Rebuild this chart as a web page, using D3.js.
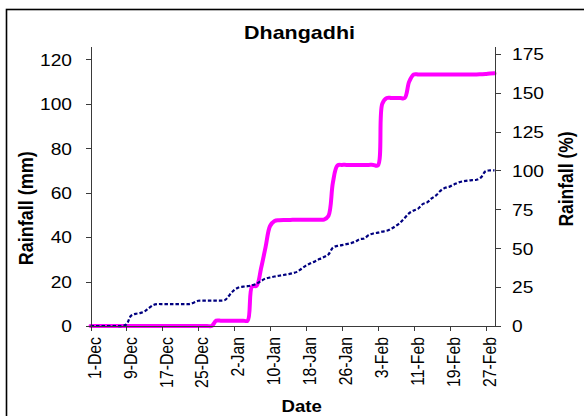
<!DOCTYPE html>
<html>
<head>
<meta charset="utf-8">
<script src="https://cdn.jsdelivr.net/npm/d3@7"></script>
<style>
    body { margin: 0; background: #fff; }
    svg { display: block; font-family: "Liberation Sans", Arial, sans-serif; }
    .axis path,
    .axis line {
        fill: none;
        stroke: #3a3a3a;
        shape-rendering: crispEdges;
    }
    .axis text { fill: #000; }
</style>
</head>
<body>
<script>

// titles
var chartTitle = "Dhangadhi";
var leftTitle = "Rainfall (mm)";
var rightTitle = "Rainfall (%)";
var xTitle = "Date";

// daily series runs from 1-Dec to 29-Feb
var firstDay = "2011-12-01";
var lastDay = "2012-02-29";

// tick labels
var xTickLabels = ["1-Dec", "9-Dec", "17-Dec", "25-Dec", "2-Jan", "10-Jan",
    "18-Jan", "26-Jan", "3-Feb", "11-Feb", "19-Feb", "27-Feb"];
var leftTicks = [0, 20, 40, 60, 80, 100, 120];
var rightTicks = [0, 25, 50, 75, 100, 125, 150, 175];

// cumulative rainfall (mm) - left axis, one value per day
var rainMM = [
    0, 0, 0, 0, 0, 0, 0, 0, 0, 0,
    0, 0, 0, 0, 0, 0, 0, 0, 0, 0,
    0, 0, 0, 0, 0, 0, 0, 0, 2.4, 2.4,
    2.4, 2.4, 2.4, 2.4, 2.4, 2.4, 17.8, 18.1, 26, 35.5,
    45, 47.3, 47.6, 47.7, 47.7, 47.8, 47.8, 47.8, 47.8, 47.8,
    47.8, 47.8, 47.9, 49.5, 64.5, 72.2, 72.5, 72.5, 72.5, 72.5,
    72.5, 72.5, 72.5, 72.5, 72.2, 100, 102.6, 102.6, 102.6, 102.6,
    102.6, 110, 113.2, 113.2, 113.2, 113.2, 113.2, 113.2, 113.2, 113.2,
    113.2, 113.2, 113.2, 113.2, 113.2, 113.2, 113.2, 113.3, 113.4, 113.6,
    113.7
];

// cumulative rainfall (%) - right axis, one value per day
var rainPct = [
    0, 0, 0, 0, 0, 0, 0, 0, 1, 6.5,
    7.8, 8.3, 9.3, 11.5, 13.5, 14.1, 14.1, 14.1, 14.1, 14.1,
    14.1, 14.1, 14.1, 15, 16.2, 16.3, 16.3, 16.3, 16.3, 16.3,
    16.8, 20, 23, 24.8, 25.3, 25.6, 26.2, 27.2, 29, 30.5,
    31.2, 31.8, 32.3, 32.8, 33.3, 33.9, 34.8, 36.8, 38.8, 40.3,
    41.5, 43, 44.3, 46, 50.4, 51.5, 52, 52.6, 53.3, 54.2,
    55.8, 56.3, 58.5, 59.5, 60, 60.7, 61.2, 62.5, 64.3, 66.5,
    69.5, 72.5, 74.2, 75.5, 78.3, 79.5, 82, 84, 87, 88.8,
    89.6, 91, 92.3, 93, 93.5, 93.8, 94, 95.5, 99.5, 100,
    100
];

// the original picture is a bit wider than tall, so text gets a horizontal stretch
var sx = 1.13;

var width = 584, height = 416;
var plot = {left: 90.5, right: 494.5, top: 46, bottom: 326};

var parseDay = d3.timeParse("%Y-%m-%d");
var parseTick = d3.timeParse("%d-%b-%Y");
var start = parseDay(firstDay);
var end = parseDay(lastDay);
var days = d3.timeDay.range(start, d3.timeDay.offset(end, 1));

// tick labels -> dates (Dec is in the first year)
var tickDates = xTickLabels.map(function(s) {
    var yr = s.indexOf("Dec") >= 0 ? start.getFullYear() : end.getFullYear();
    return parseTick(s + "-" + yr);
});

var x = d3.scaleTime().domain([start, end]).range([plot.left, plot.right]);
var yLeft = d3.scaleLinear().domain([0, 126]).range([plot.bottom, plot.top]);
var yRight = d3.scaleLinear().domain([0, 180]).range([plot.bottom, plot.top]);

var svg = d3.select("body").append("svg")
    .attr("width", width)
    .attr("height", height);

svg.append("rect")
    .attr("width", width).attr("height", height)
    .attr("fill", "#fff");

// chart border
svg.append("rect")
    .attr("x", 6.5).attr("y", 9.5)
    .attr("width", 700).attr("height", 500)
    .attr("fill", "none")
    .attr("stroke", "#000")
    .attr("stroke-width", 1.6);

// lines
var lineMM = d3.line()
    .x(function(d, i) { return x(days[i]); })
    .y(function(d) { return yLeft(d); })
    .curve(d3.curveCatmullRom);

var linePct = d3.line()
    .x(function(d, i) { return x(days[i]); })
    .y(function(d) { return yRight(d); })
    .curve(d3.curveCatmullRom);

svg.append("path")
    .datum(rainMM)
    .attr("d", lineMM)
    .attr("fill", "none")
    .attr("stroke", "#ff00ff")
    .attr("stroke-width", 4)
    .attr("stroke-linejoin", "round")
    .attr("stroke-linecap", "round");

svg.append("path")
    .datum(rainPct)
    .attr("d", linePct)
    .attr("fill", "none")
    .attr("stroke", "#000080")
    .attr("stroke-width", 2.2)
    .attr("stroke-dasharray", "3.5,2");

// left axis
var gLeft = svg.append("g")
    .attr("class", "axis")
    .attr("transform", "translate(" + plot.left + ",0)")
    .call(d3.axisLeft(yLeft).tickValues(leftTicks).tickSize(5).tickSizeOuter(0));
gLeft.selectAll("text")
    .attr("x", 0)
    .attr("dy", "0.34em")
    .attr("transform", "translate(-18.5,0) scale(" + sx + ",1)")
    .style("font-size", "17px");

// right axis
var gRight = svg.append("g")
    .attr("class", "axis")
    .attr("transform", "translate(" + plot.right + ",0)")
    .call(d3.axisRight(yRight).tickValues(rightTicks).tickSize(6).tickSizeOuter(0));
gRight.selectAll("text")
    .attr("x", 0)
    .attr("dy", "0.34em")
    .attr("transform", "translate(17.5,0) scale(" + sx + ",1)")
    .style("font-size", "17px");

// bottom axis
var gBottom = svg.append("g")
    .attr("class", "axis")
    .attr("transform", "translate(0," + plot.bottom + ")")
    .call(d3.axisBottom(x).tickValues(tickDates).tickSize(5).tickSizeOuter(0)
        .tickFormat(d3.timeFormat("%-d-%b")));
gBottom.selectAll("text")
    .attr("x", 0)
    .attr("y", 0)
    .attr("dy", "8.6px")
    .attr("text-anchor", "end")
    .attr("transform", "translate(0,11) scale(" + sx + ",1) rotate(-90)")
    .style("font-size", "15.8px");

// titles
svg.append("text")
    .attr("transform", "translate(299.5,39.3) scale(" + sx + ",1)")
    .attr("text-anchor", "middle")
    .style("font-weight", "bold")
    .style("font-size", "19px")
    .text(chartTitle);

svg.append("text")
    .attr("transform", "translate(33,208.3) scale(" + sx + ",1) rotate(-90)")
    .attr("text-anchor", "middle")
    .style("font-weight", "bold")
    .style("font-size", "18px")
    .text(leftTitle);

svg.append("text")
    .attr("transform", "translate(573,179) scale(" + sx + ",1) rotate(-90)")
    .attr("text-anchor", "middle")
    .style("font-weight", "bold")
    .style("font-size", "17.5px")
    .text(rightTitle);

svg.append("text")
    .attr("transform", "translate(301.7,412) scale(" + sx + ",1)")
    .attr("text-anchor", "middle")
    .style("font-weight", "bold")
    .style("font-size", "16.5px")
    .text(xTitle);

</script>
</body>
</html>
